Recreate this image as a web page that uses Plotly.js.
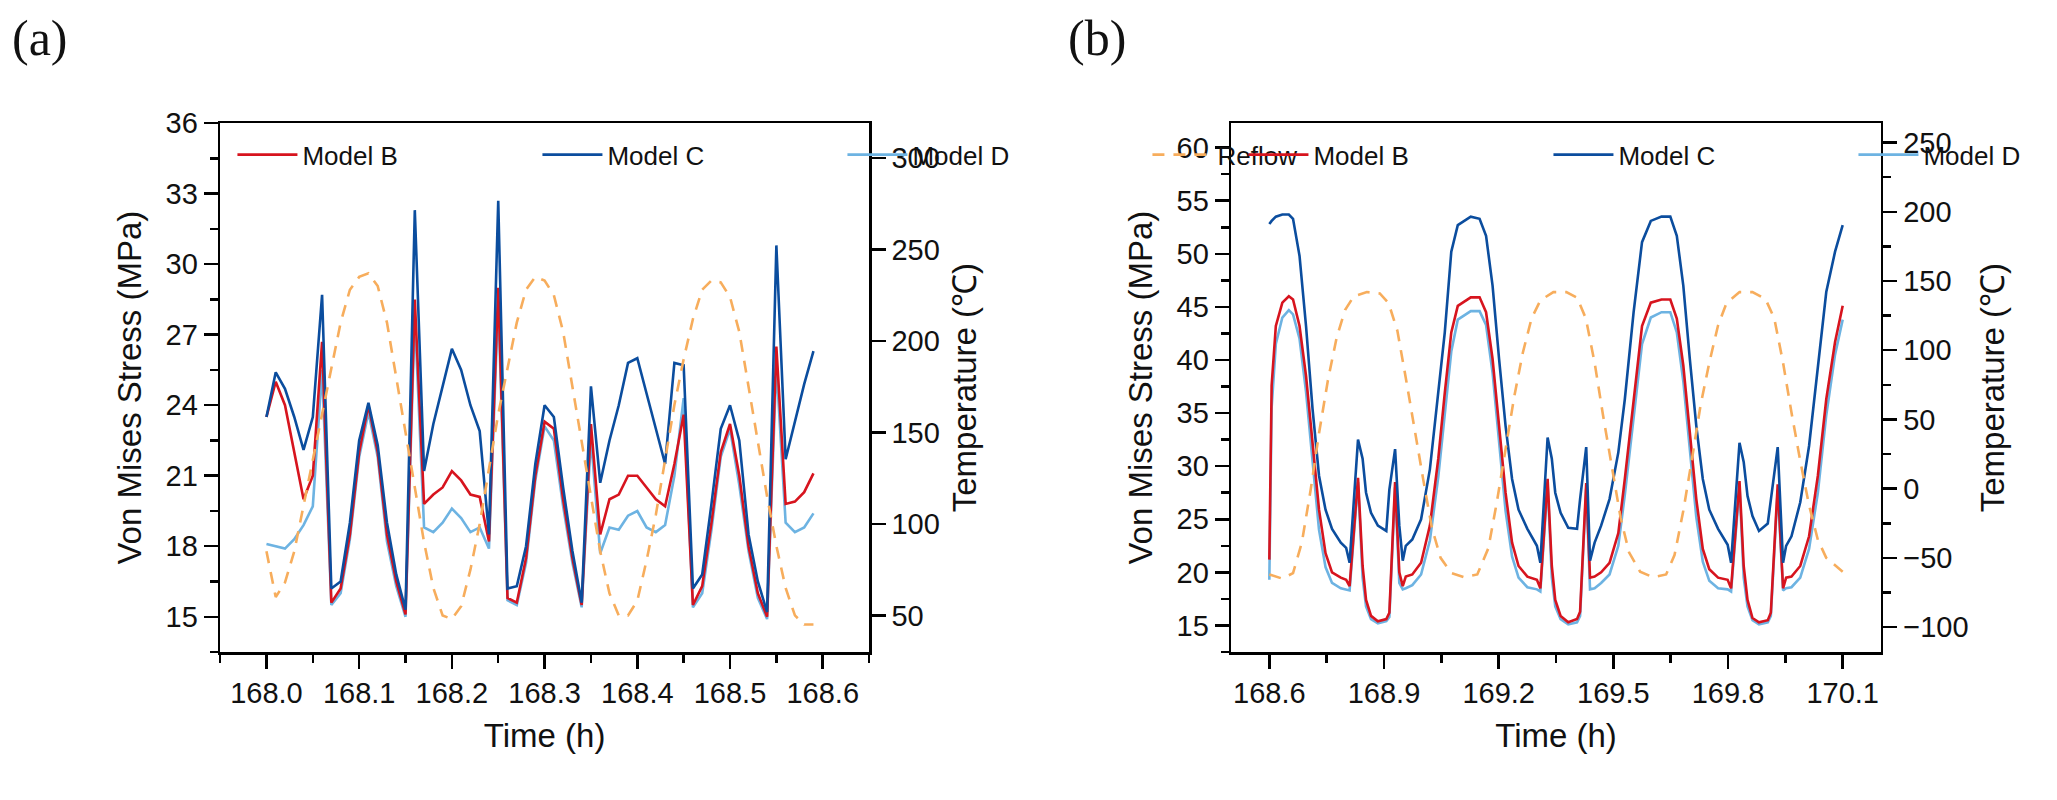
<!DOCTYPE html>
<html>
<head>
<meta charset="utf-8">
<script src="https://cdn.plot.ly/plotly-3.0.1.min.js"></script>
<style>html,body{margin:0;padding:0;background:#fff}#chart{width:2057px;height:800px}</style>
</head>
<body>
<div id="chart"></div>
<script>
'use strict';

// ---- panel (a): reflow, sampled every 0.01 h ----
const timeA = Array.from({ length: 60 }, (_, i) => +(168 + i * 0.01).toFixed(2));
const aModelB = [23.5, 25, 24, 22, 20, 21, 26.7, 15.6, 16.2, 18.5, 22, 24, 22, 18.5, 16.5, 15.1, 28.5, 19.8, 20.2, 20.5,
    21.2, 20.8, 20.2, 20.1, 18.2, 29, 15.8, 15.6, 17.5, 21, 23.3, 23, 20, 17.5, 15.5, 23.2, 18.5, 20, 20.2, 21,
    21, 20.5, 20, 19.7, 21.5, 23.6, 15.5, 16.3, 19, 22, 23.2, 21, 18, 16, 15, 26.5, 19.8, 19.9, 20.3, 21.1];
const aModelC = [23.5, 25.4, 24.7, 23.5, 22.1, 23.5, 28.7, 16.2, 16.5, 19, 22.5, 24.1, 22.3, 19, 16.8, 15.3, 32.3, 21.2, 23.2, 24.8,
    26.4, 25.5, 24, 22.9, 18.5, 32.7, 16.2, 16.3, 18, 21.5, 24, 23.5, 20.5, 17.8, 15.6, 24.8, 20.7, 22.5, 24, 25.8,
    26, 24.5, 23, 21.5, 25.8, 25.7, 16.2, 16.8, 19.8, 23, 24, 22.5, 18.5, 16.5, 15.2, 30.8, 21.7, 23.3, 24.9, 26.3];
const aModelD = [18.1, 18, 17.9, 18.3, 18.9, 19.7, 25.5, 15.5, 16, 18.3, 21.8, 23.7, 21.8, 18.2, 16.3, 15, 27.8, 18.8, 18.6, 19,
    19.6, 19.2, 18.6, 18.8, 17.9, 28.4, 15.7, 15.5, 17.3, 20.8, 23.1, 22.5, 19.7, 17.3, 15.4, 22.6, 17.7, 18.8, 18.7, 19.3,
    19.5, 18.8, 18.6, 18.9, 21, 24.3, 15.4, 16, 18.7, 21.8, 23, 20.6, 17.8, 15.8, 14.9, 25.7, 19, 18.6, 18.8, 19.4];
const aReflow = [85, 60, 68, 85, 110, 135, 160, 185, 210, 228, 235, 237, 230, 210, 180, 150, 120, 90, 65, 50,
    48, 55, 75, 100, 130, 160, 185, 210, 228, 235, 233, 225, 205, 175, 145, 115, 85, 62, 50, 50,
    58, 80, 105, 135, 165, 190, 212, 228, 233, 232, 224, 205, 175, 145, 115, 88, 65, 50, 45, 45];

// ---- panel (b): thermal cycling ----
const timeB = [168.600, 168.606, 168.617, 168.634, 168.651, 168.662, 168.679, 168.696, 168.713, 168.730, 168.747, 168.764, 168.787, 168.801, 168.810,
    168.832, 168.844, 168.853, 168.866, 168.884, 168.906, 168.914, 168.929, 168.940, 168.949, 168.957,
    168.974, 168.997, 169.020, 169.042, 169.059, 169.076, 169.093, 169.127, 169.150, 169.167, 169.184, 169.201, 169.218, 169.235, 169.252, 169.275, 169.300, 169.309,
    169.328, 169.339, 169.348, 169.362, 169.382, 169.405, 169.413, 169.429, 169.439, 169.451, 169.468, 169.490, 169.513, 169.530, 169.553, 169.575, 169.598, 169.626, 169.649, 169.666, 169.683, 169.700, 169.717, 169.734, 169.751, 169.774, 169.799, 169.808,
    169.830, 169.841, 169.851, 169.864, 169.881, 169.904, 169.912, 169.930, 169.944, 169.952, 169.966, 169.989, 170.012, 170.035, 170.057, 170.080, 170.100];
const bModelB = [21.2, 37.6, 43.2, 45.4, 46.0, 45.7, 43.2, 38.5, 32.2, 25.9, 21.8, 20.0, 19.5, 19.3, 18.7,
    28.9, 20.6, 17.4, 15.9, 15.4, 15.6, 16.2, 28.5, 20.0, 18.7, 19.6,
    19.8, 20.9, 24.4, 30.7, 36.9, 42.6, 45.1, 45.9, 45.9, 44.5, 40.1, 33.8, 27.5, 22.8, 20.6, 19.6, 19.3, 18.5,
    28.8, 20.6, 17.4, 15.9, 15.3, 15.6, 16.3, 28.4, 19.5, 19.6, 20.0, 20.9, 23.7, 28.8, 36.3, 43.2, 45.4, 45.7, 45.7, 43.9, 39.5, 33.2, 26.9, 22.2, 20.3, 19.5, 19.3, 18.5,
    28.6, 20.6, 17.4, 15.7, 15.3, 15.5, 16.2, 28.3, 18.5, 19.5, 19.6, 20.6, 23.4, 29.1, 36.3, 41.7, 45.1];
const bModelC = [52.8, 53.1, 53.5, 53.7, 53.7, 53.3, 49.8, 43.2, 35.4, 29.1, 25.9, 24.1, 22.8, 22.3, 20.9,
    32.5, 30.7, 27.5, 25.6, 24.4, 23.9, 27.8, 31.6, 24.4, 21.1, 22.5,
    23.1, 25.0, 29.7, 36.9, 42.6, 50.2, 52.7, 53.5, 53.3, 51.7, 47.0, 40.1, 33.8, 28.8, 25.9, 24.1, 22.5, 20.9,
    32.7, 30.7, 27.5, 25.6, 24.2, 24.1, 26.9, 31.8, 21.1, 22.8, 24.4, 26.9, 31.3, 36.3, 44.5, 51.1, 53.1, 53.5, 53.5, 51.7, 47.0, 40.1, 33.8, 28.8, 25.9, 24.1, 22.6, 20.9,
    32.2, 30.4, 27.2, 25.3, 23.9, 24.6, 26.9, 31.8, 20.9, 22.5, 23.4, 26.6, 31.9, 39.5, 46.4, 50.2, 52.7];
const bModelD = [19.3, 35.5, 41.5, 44.0, 44.7, 44.3, 42.0, 37.0, 30.5, 24.0, 20.5, 19.0, 18.5, 18.4, 18.3,
    28.5, 19.5, 16.8, 15.6, 15.2, 15.4, 15.8, 28.0, 19.0, 18.4, 18.5,
    18.8, 19.8, 23.0, 29.0, 35.0, 40.8, 43.8, 44.6, 44.6, 43.3, 38.8, 32.0, 25.8, 21.5, 19.5, 18.6, 18.4, 18.2,
    28.3, 19.5, 16.8, 15.6, 15.1, 15.3, 15.9, 27.9, 18.4, 18.5, 19.0, 19.8, 22.5, 27.3, 34.5, 41.5, 44.0, 44.5, 44.5, 42.6, 38.0, 31.5, 25.2, 21.0, 19.2, 18.5, 18.4, 18.2,
    28.1, 19.5, 16.8, 15.5, 15.1, 15.3, 15.9, 27.8, 18.3, 18.5, 18.6, 19.5, 22.2, 27.5, 34.8, 40.5, 43.8];
const timeTCT = [168.600, 168.634, 168.662, 168.685, 168.708, 168.730, 168.753, 168.776, 168.798, 168.821, 168.855, 168.889, 168.912, 168.935, 168.957,
    168.980, 169.003, 169.025, 169.048, 169.076, 169.110, 169.144, 169.173, 169.195, 169.218, 169.241, 169.263, 169.286, 169.309, 169.343,
    169.377, 169.405, 169.428, 169.451, 169.473, 169.496, 169.519, 169.541, 169.570, 169.604, 169.638, 169.660, 169.683, 169.706, 169.728,
    169.751, 169.774, 169.796, 169.830, 169.864, 169.898, 169.921, 169.944, 169.966, 169.989, 170.012, 170.035, 170.057, 170.100];
const bTCT = [-62, -65, -61, -39, -1, 40, 78, 109, 129, 139, 142, 141, 134, 114, 80,
    42, 6, -28, -50, -61, -64, -62, -43, -10, 28, 67, 98, 123, 136, 142,
    142, 138, 123, 91, 53, 15, -21, -46, -60, -64, -62, -48, -16, 22, 60,
    91, 118, 134, 142, 142, 137, 123, 91, 55, 20, -12, -37, -50, -60];

const RED = '#d7141e', DARK = '#0b4d9e', LIGHT = '#6db3e2', ORANGE = '#f7ad5c';
const FONT = 'Liberation Sans, Arial, sans-serif';

function line(x, y, name, color, xa, ya, legend, rank, dash) {
    return { x, y, name, type: 'scatter', mode: 'lines', xaxis: xa, yaxis: ya, legend, legendrank: rank,
        line: { color, width: 2.6, dash: dash || 'solid' } };
}

// Model D drawn first so it sits underneath
const traces = [
    line(timeA, aModelD, 'Model D', LIGHT, 'x', 'y', 'legend', 3),
    line(timeA, aModelB, 'Model B', RED, 'x', 'y', 'legend', 1),
    line(timeA, aModelC, 'Model C', DARK, 'x', 'y', 'legend', 2),
    line(timeA, aReflow, 'Reflow', ORANGE, 'x', 'y2', 'legend', 4, '12px,9px'),
    line(timeB, bModelD, 'Model D', LIGHT, 'x2', 'y3', 'legend2', 3),
    line(timeB, bModelB, 'Model B', RED, 'x2', 'y3', 'legend2', 1),
    line(timeB, bModelC, 'Model C', DARK, 'x2', 'y3', 'legend2', 2),
    line(timeTCT, bTCT, 'TCT', ORANGE, 'x2', 'y4', 'legend2', 4, '12px,9px'),
];

const tickF = { family: FONT, size: 29, color: '#111' };
const titleF = { family: FONT, size: 33, color: '#111' };
const axBase = { showline: true, linecolor: '#000', linewidth: 2.5, ticks: 'outside', ticklen: 14, tickwidth: 2.5,
    tickcolor: '#000', showgrid: false, zeroline: false, tickfont: tickF, automargin: false, tickangle: 0 };
const minor = (d) => ({ dtick: d, ticks: 'outside', ticklen: 8, tickwidth: 2.5, tickcolor: '#000', showgrid: false });

const dA = [0.107, 0.4225], dB = [0.5985, 0.9144], dY = [0.185, 0.846];
const legBase = { orientation: 'h', entrywidth: 230, itemwidth: 60, bgcolor: 'rgba(0,0,0,0)', traceorder: 'normal',
    font: { family: FONT, size: 26, color: '#111' }, yanchor: 'top', xanchor: 'left', xref: 'paper', yref: 'paper' };

const layout = {
    width: 2057, height: 800, autosize: false, paper_bgcolor: '#fff', plot_bgcolor: '#fff',
    margin: { l: 0, r: 0, t: 0, b: 0, autoexpand: false },
    xaxis: Object.assign({}, axBase, { domain: dA, range: [167.95, 168.65], dtick: 0.1, tick0: 168, tickformat: '.1f',
        minor: minor(0.05), mirror: true, anchor: 'y',
        title: { text: 'Time (h)', font: titleF, standoff: 16 } }),
    yaxis: Object.assign({}, axBase, { domain: dY, range: [13.5, 36], dtick: 3, tick0: 15, minor: minor(1.5), anchor: 'x',
        title: { text: 'Von Mises Stress (MPa)', font: titleF, standoff: 14 } }),
    yaxis2: Object.assign({}, axBase, { overlaying: 'y', side: 'right', anchor: 'x', range: [30, 319], dtick: 50, tick0: 50,
        title: { text: 'Temperature (℃)', font: titleF, standoff: 14 } }),
    xaxis2: Object.assign({}, axBase, { domain: dB, range: [168.5, 170.2], dtick: 0.3, tick0: 168.6, tickformat: '.1f',
        minor: minor(0.15), mirror: true, anchor: 'y3',
        title: { text: 'Time (h)', font: titleF, standoff: 16 } }),
    yaxis3: Object.assign({}, axBase, { domain: dY, range: [12.5, 62.3], dtick: 5, tick0: 15, minor: minor(2.5), anchor: 'x2',
        title: { text: 'Von Mises Stress (MPa)', font: titleF, standoff: 14 } }),
    yaxis4: Object.assign({}, axBase, { overlaying: 'y3', side: 'right', anchor: 'x2', range: [-118, 264], dtick: 50, tick0: -100,
        minor: minor(25),
        title: { text: 'Temperature (℃)', font: titleF, standoff: 14 } }),
    legend: Object.assign({}, legBase, { x: dA[0] + 0.006, y: dY[1] - 0.01 }),
    legend2: Object.assign({}, legBase, { x: dB[0] + 0.006, y: dY[1] - 0.01 }),
    annotations: [
        { text: '(a)', xref: 'paper', yref: 'paper', x: 0.005, y: 0.99, xanchor: 'left', yanchor: 'top', showarrow: false,
            font: { family: 'Liberation Serif, Times New Roman, serif', size: 50, color: '#111' } },
        { text: '(b)', xref: 'paper', yref: 'paper', x: 0.518, y: 0.99, xanchor: 'left', yanchor: 'top', showarrow: false,
            font: { family: 'Liberation Serif, Times New Roman, serif', size: 50, color: '#111' } },
    ],
};

Plotly.newPlot('chart', traces, layout, { staticPlot: true, displayModeBar: false });
</script>
</body>
</html>
